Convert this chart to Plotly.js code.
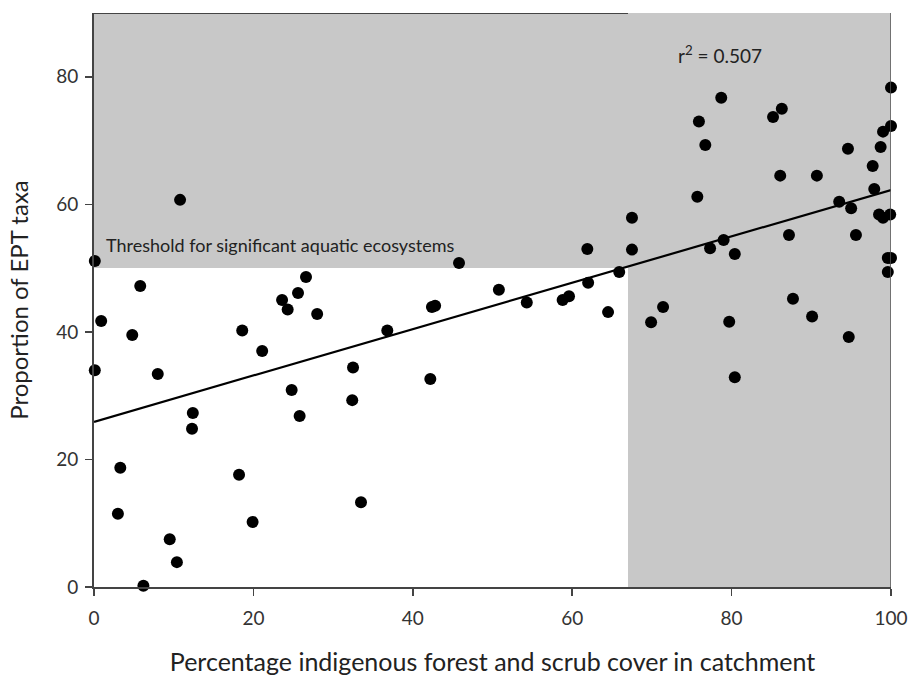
<!DOCTYPE html>
<html><head><meta charset="utf-8">
<script src="https://cdn.plot.ly/plotly-3.0.1.min.js"></script>
<style>body{margin:0;background:#fff}#c{width:908px;height:687px}</style>
</head><body><div id="c"></div>
<script>
const forestCover = [0.1,0.9,0.1,3.3,3.0,4.8,5.8,6.2,8.0,9.5,10.4,10.8,12.4,12.3,18.2,18.6,19.9,21.1,23.6,24.3,24.8,25.6,25.8,26.6,28.0,32.4,32.5,33.5,36.8,42.2,42.4,42.8,45.8,50.8,54.3,58.8,59.6,61.9,62.0,64.5,65.9,67.5,67.5,69.9,71.4,75.7,75.9,76.7,77.3,78.7,79.0,79.7,80.4,80.4,85.2,86.3,86.1,87.2,87.7,90.1,90.7,93.5,94.6,94.7,95.0,95.6,97.7,97.9,98.5,98.7,99.0,99.0,99.6,99.6,99.9,100,100,100];
const eptProportion = [51.1,41.7,34.0,18.7,11.5,39.5,47.2,0.2,33.4,7.5,3.9,60.7,27.3,24.8,17.6,40.2,10.2,37.0,45.0,43.5,30.9,46.1,26.8,48.6,42.8,29.3,34.4,13.3,40.2,32.6,43.9,44.1,50.8,46.6,44.6,45.0,45.6,53.0,47.7,43.1,49.4,57.9,52.9,41.5,43.9,61.2,73.0,69.3,53.1,76.7,54.4,41.6,52.2,32.9,73.7,75.0,64.5,55.2,45.2,42.4,64.5,60.4,68.7,39.2,59.4,55.2,66.0,62.4,58.4,69.0,57.9,71.4,51.6,49.4,58.4,72.3,78.3,51.6];
const xTicks = [0,20,40,60,80,100];
const yTicks = [0,20,40,60,80];
const threshold = 50;
const forestThreshold = 67;
const r2Label = "r<sup>2</sup> = 0.507";

// least-squares fit
const n = forestCover.length;
const mx = forestCover.reduce((a,b)=>a+b,0)/n;
const my = eptProportion.reduce((a,b)=>a+b,0)/n;
let sxy=0, sxx=0;
for(let i=0;i<n;i++){sxy+=(forestCover[i]-mx)*(eptProportion[i]-my);sxx+=(forestCover[i]-mx)**2;}
const slope = sxy/sxx, icpt = my - slope*mx;
const fitX = [0,100];
const fitY = fitX.map(x=>icpt+slope*x);

const font = "Lato, 'Open Sans', sans-serif";
const data = [
 {x: fitX, y: fitY, mode:'lines', line:{color:'#000', width:2.2}, hoverinfo:'skip', showlegend:false, cliponaxis:false},
 {x: forestCover, y: eptProportion, mode:'markers', marker:{color:'#000', size:12}, showlegend:false, cliponaxis:false}
];
const layout = {
 width:908, height:687,
 margin:{l:94, r:17, t:13, b:100},
 paper_bgcolor:'#fff', plot_bgcolor:'#fff',
 font:{family:font, color:'#222', size:19},
 xaxis:{range:[0,100], tickvals:xTicks, ticks:'outside', ticklen:7, tickwidth:1.5, tickcolor:'#444',
   showline:true, linecolor:'#444', linewidth:2, showgrid:false, zeroline:false, ticklabelstandoff:6,
   tickfont:{size:19, family:font, color:'#333'}, title:{text:'Percentage indigenous forest and scrub cover in catchment', font:{size:25, family:font, color:'#222'}, standoff:26}},
 yaxis:{range:[0,90], tickvals:yTicks, ticks:'outside', ticklen:7, tickwidth:1.5, tickcolor:'#444',
   showline:true, linecolor:'#444', linewidth:2, showgrid:false, zeroline:false, ticklabelstandoff:3,
   tickfont:{size:19, family:font, color:'#333'}, title:{text:'Proportion of EPT taxa', font:{size:24, family:font, color:'#222'}, standoff:21}},
 shapes:[
  {type:'rect', xref:'x', yref:'y', x0:0, x1:100, y0:threshold, y1:90, fillcolor:'#c8c8c8', line:{width:0}, layer:'below'},
  {type:'rect', xref:'x', yref:'y', x0:forestThreshold, x1:100, y0:0, y1:threshold, fillcolor:'#c8c8c8', line:{width:0}, layer:'below'},
  {type:'line', xref:'x', yref:'y', x0:0, x1:forestThreshold, y0:90, y1:90, line:{color:'#444', width:2}},
  {type:'line', xref:'x', yref:'y', x0:100, x1:100, y0:0, y1:90, line:{color:'#555', width:1.5}}
 ],
 annotations:[
  {xref:'x', yref:'y', x:1.2, y:53.6, xanchor:'left', yanchor:'middle', showarrow:false, text:'Threshold for significant aquatic ecosystems', font:{size:18, family:font, color:'#222'}},
  {xref:'x', yref:'y', x:73.0, y:83.5, xanchor:'left', yanchor:'middle', showarrow:false, text:r2Label, font:{size:19, family:font, color:'#222'}}
 ]
};
Plotly.newPlot('c', data, layout, {displayModeBar:false, staticPlot:true});
</script></body></html>
